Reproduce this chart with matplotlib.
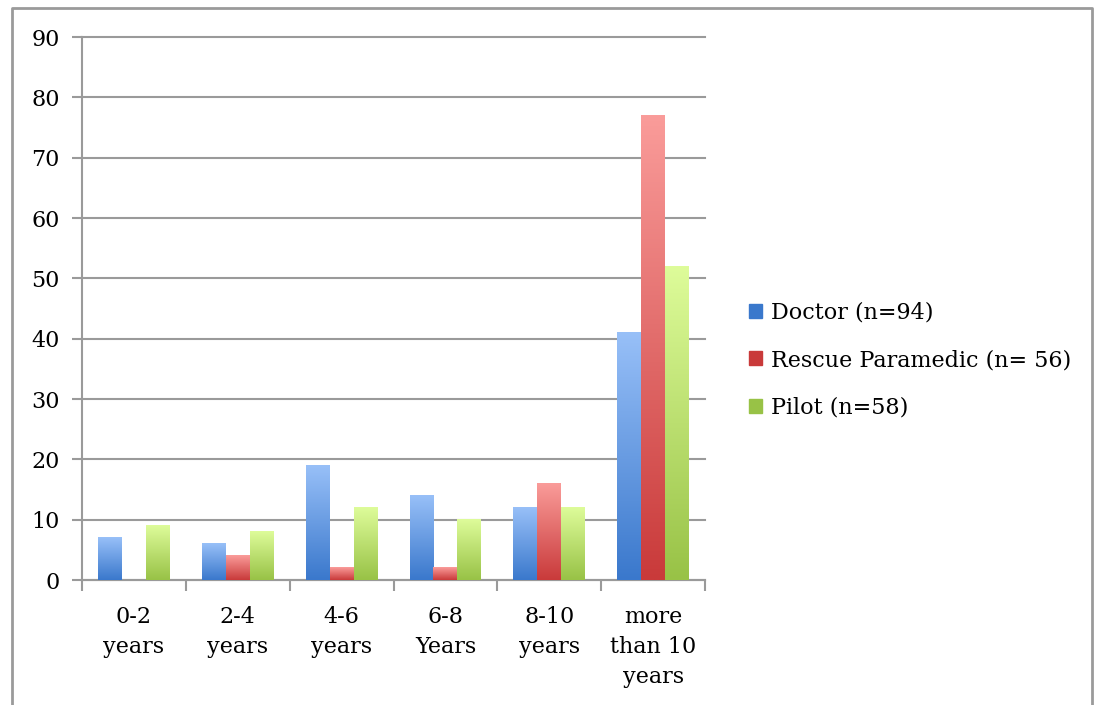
import numpy as np
import matplotlib.pyplot as plt
from matplotlib.colors import LinearSegmentedColormap
from matplotlib.lines import Line2D

categories = ["0-2\nyears", "2-4\nyears", "4-6\nyears", "6-8\nYears",
              "8-10\nyears", "more\nthan 10\nyears"]
series_names = ["Doctor (n=94)", "Rescue Paramedic (n= 56)", "Pilot (n=58)"]
doctor = [7, 6, 19, 14, 12, 41]
paramedic = [0, 4, 2, 2, 16, 77]
pilot = [9, 8, 12, 10, 12, 52]

# bottom colour, top colour of each bar gradient
gradients = [("#3a78cc", "#98c0f8"), ("#c93a3a", "#fa9c9a"), ("#98c246", "#defc9a")]

plt.rcParams['font.family'] = ['DejaVu Serif']
fig = plt.figure(figsize=(10.98, 7.05), dpi=100)
ax = fig.add_axes([0.0747, 0.1773, 0.5674, 0.7702])

grey = "#9a9a9a"
x = np.arange(len(categories))
width = 0.23
grad = np.linspace(0, 1, 256).reshape(-1, 1)

for i, (vals, name, (c0, c1)) in enumerate(zip([doctor, paramedic, pilot], series_names, gradients)):
    cmap = LinearSegmentedColormap.from_list(name, [c0, c1])
    bars = ax.bar(x + (i - 1) * width, vals, width, color=c0, label=name, zorder=3)
    for b in bars:
        h = b.get_height()
        if h <= 0:
            continue
        x0 = b.get_x()
        ax.imshow(grad, cmap=cmap, aspect='auto', origin='lower',
                  extent=(x0, x0 + b.get_width(), 0, h), zorder=3.5)
        b.set_alpha(0)

ax.set_xlim(-0.5, len(categories) - 0.5)
ax.set_ylim(0, 90)
ax.set_yticks(np.arange(0, 91, 10))
ax.set_xticks(x)
ax.set_xticklabels(categories, fontsize=16, linespacing=1.45)
ax.set_xticks(np.arange(-0.5, len(categories)), minor=True)
ax.tick_params(axis='x', which='major', length=0, pad=19)
ax.tick_params(axis='x', which='minor', length=8, width=1.5, color=grey)
ax.tick_params(axis='y', length=7, width=1.5, color=grey, labelsize=16, pad=9)
ax.grid(axis='y', color=grey, lw=1.5, zorder=0)
for gl in ax.get_ygridlines():
    gl.set_clip_on(False)
ax.set_axisbelow(True)
for s in ('top', 'right'):
    ax.spines[s].set_visible(False)
for s in ('left', 'bottom'):
    ax.spines[s].set_color(grey)
    ax.spines[s].set_linewidth(1.5)

handles = [plt.Rectangle((0, 0), 1, 1, color=c0) for c0, _ in gradients]
fig.legend(handles, series_names, loc='center left', bbox_to_anchor=(0.664, 0.489),
           frameon=False, fontsize=16, handlelength=0.6, handleheight=0.6,
           handletextpad=0.4, labelspacing=1.15)

# outer frame around the chart
fx = [12 / 1098, 12 / 1098, 1092 / 1098, 1092 / 1098]
fy = [0.0, 1 - 8 / 705, 1 - 8 / 705, 0.0]
fig.add_artist(Line2D(fx, fy, color=grey, lw=2, transform=fig.transFigure))

fig.savefig("out.png", dpi=100)
